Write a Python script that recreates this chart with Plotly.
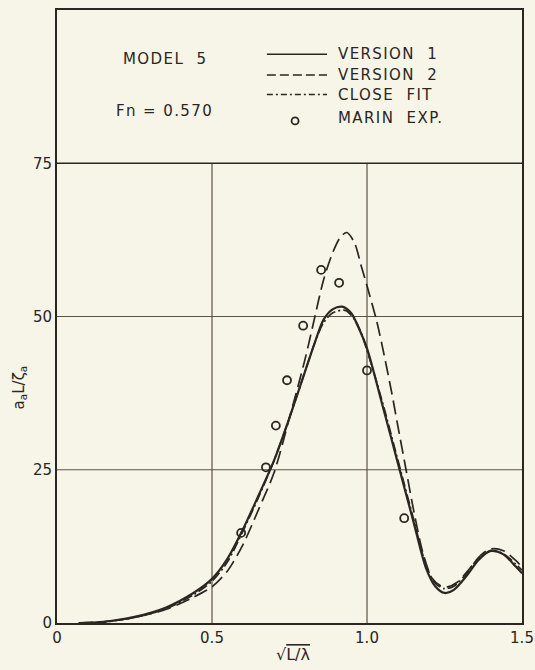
import plotly.graph_objects as go

# ---------------- data ----------------
v1_x = [0.07, 0.15, 0.25, 0.35, 0.44, 0.50, 0.55, 0.60, 0.65, 0.70, 0.75, 0.80, 0.83, 0.86, 0.89, 0.92,
        0.95, 0.97, 1.00, 1.05, 1.10, 1.15, 1.19, 1.22, 1.25, 1.28, 1.32, 1.36, 1.40, 1.44, 1.48, 1.50]
v1_y = [0.0, 0.2, 1.0, 2.5, 4.9, 7.2, 10.5, 15.3, 20.8, 26.5, 33.5, 41.0, 45.5, 49.5, 51.2, 51.6,
        50.5, 48.5, 44.8, 35.5, 26.0, 16.5, 9.0, 6.0, 4.9, 5.4, 7.6, 10.3, 11.8, 11.2, 9.2, 8.1]

v2_x = [0.07, 0.15, 0.25, 0.35, 0.44, 0.50, 0.55, 0.60, 0.65, 0.70, 0.75, 0.80, 0.832, 0.86, 0.89, 0.915,
        0.935, 0.96, 0.98, 1.00, 1.03, 1.05, 1.08, 1.10, 1.126, 1.15, 1.18, 1.21, 1.24, 1.26, 1.29, 1.33,
        1.37, 1.40, 1.44, 1.48, 1.50]
v2_y = [0.0, 0.2, 0.9, 2.2, 4.2, 5.9, 8.5, 12.8, 18.5, 24.5, 33.5, 43.0, 50.0, 56.0, 60.5, 63.0,
        63.7, 62.0, 58.5, 55.0, 49.5, 45.0, 37.5, 32.0, 25.0, 18.5, 11.5, 7.3, 6.0, 5.9, 6.6, 8.8,
        11.2, 12.1, 11.8, 10.2, 9.1]

cf_x = [0.07, 0.15, 0.25, 0.35, 0.44, 0.50, 0.55, 0.60, 0.65, 0.70, 0.75, 0.80, 0.83, 0.86, 0.89, 0.93,
        0.96, 0.98, 1.00, 1.05, 1.10, 1.15, 1.19, 1.22, 1.25, 1.28, 1.32, 1.36, 1.40, 1.44, 1.48, 1.50]
cf_y = [0.0, 0.15, 0.9, 2.3, 4.6, 6.8, 10.0, 15.0, 20.5, 26.5, 33.5, 41.0, 45.5, 49.0, 50.6, 51.0,
        49.5, 47.5, 44.5, 36.0, 26.5, 17.0, 9.5, 6.5, 5.6, 6.0, 8.0, 10.6, 11.7, 11.3, 9.6, 8.6]

exp_x = [0.594, 0.674, 0.706, 0.742, 0.794, 0.852, 0.910, 1.000, 1.120]
exp_y = [14.7, 25.4, 32.2, 39.6, 48.5, 57.6, 55.5, 41.2, 17.1]

x_ticks = [0, 0.5, 1.0, 1.5]
x_ticklabels = ["0", "0.5", "1.0", "1.5"]
y_ticks = [0, 25, 50, 75]
y_ticklabels = ["0", "25", "50", "75"]

legend_names = ["VERSION\u00a0\u00a01", "VERSION\u00a0\u00a02", "CLOSE\u00a0\u00a0FIT", "MARIN\u00a0\u00a0EXP."]

# ---------------- style ----------------
BG = "#f7f5e7"
INK = "#2b2622"
GRID = "#5e5046"
FONT = "DejaVu Sans"
SP = "letter-spacing:1.4px"

fig = go.Figure()

fig.add_trace(go.Scatter(x=v2_x, y=v2_y, mode="lines", line=dict(color=INK, width=1.7, dash="14px,6px", shape="spline", smoothing=0.8), name="v2"))
fig.add_trace(go.Scatter(x=cf_x, y=cf_y, mode="lines", line=dict(color=INK, width=1.7, dash="10px,3px,2px,3px", shape="spline", smoothing=0.8), name="cf"))
fig.add_trace(go.Scatter(x=v1_x, y=v1_y, mode="lines", line=dict(color=INK, width=2.2, shape="spline", smoothing=0.8), name="v1"))
fig.add_trace(go.Scatter(x=exp_x, y=exp_y, mode="markers",
                         marker=dict(symbol="circle-open", size=8, color=INK, line=dict(width=1.8, color=INK)), name="exp"))

shapes = []
# vertical grid lines only up to 75
for t in x_ticks[1:-1]:
    shapes.append(dict(type="line", xref="x", yref="y", x0=t, x1=t, y0=0, y1=75, line=dict(color=GRID, width=1.2), layer="below"))
for t in y_ticks[1:]:
    shapes.append(dict(type="line", xref="x", yref="y", x0=0, x1=1.5, y0=t, y1=t, line=dict(color=GRID if t < 75 else INK, width=1.2 if t < 75 else 1.5), layer="below"))

# legend panel samples
rows_y = [92.8, 89.4, 86.2, 82.4]
lx0, lx1, ltx = 0.677, 0.871, 0.90
dashes = ["solid", "9px,4px", "6px,3px,2px,3px"]
for i in range(3):
    shapes.append(dict(type="line", xref="x", yref="y", x0=lx0, x1=lx1, y0=rows_y[i], y1=rows_y[i],
                       line=dict(color=INK, width=1.5, dash=dashes[i])))
shapes.append(dict(type="circle", xref="x", yref="y", xsizemode="pixel", ysizemode="pixel",
                   xanchor=0.768, yanchor=rows_y[3] - 0.5, x0=-3.5, x1=3.5, y0=-3.5, y1=3.5,
                   line=dict(color=INK, width=1.8)))

annotations = []
for i, name in enumerate(legend_names):
    annotations.append(dict(x=ltx, y=rows_y[i], xref="x", yref="y", text=f"<span style='{SP}'>{name}</span>", showarrow=False,
                            xanchor="left", yanchor="middle", font=dict(family=FONT, size=15, color=INK)))
annotations.append(dict(x=0.348, y=92.0, xref="x", yref="y", text=f"<span style='{SP}'>MODEL\u00a0\u00a05</span>", showarrow=False,
                        xanchor="center", yanchor="middle", font=dict(family=FONT, size=15, color=INK)))
annotations.append(dict(x=0.348, y=83.6, xref="x", yref="y", text=f"<span style='{SP}'>Fn\u00a0=\u00a00.570</span>", showarrow=False,
                        xanchor="center", yanchor="middle", font=dict(family=FONT, size=15, color=INK)))
# axis titles
annotations.append(dict(x=0.76, y=-0.052, xref="x", yref="paper", text="\u221a<span style='text-decoration:overline'>L/\u03bb</span>",
                        showarrow=False, xanchor="center", yanchor="middle", font=dict(family=FONT, size=16, color=INK)))
annotations.append(dict(x=-0.08, y=38.4, xref="paper", yref="y", text="a<sub>a</sub>L/\u03b6<sub>a</sub>",
                        showarrow=False, textangle=-90, xanchor="center", yanchor="middle", font=dict(family=FONT, size=15, color=INK)))

fig.update_layout(
    width=535, height=670,
    margin=dict(l=57, r=13, t=10, b=47, autoexpand=False),
    paper_bgcolor=BG, plot_bgcolor=BG,
    showlegend=False,
    shapes=shapes, annotations=annotations,
    xaxis=dict(range=[0, 1.5], tickvals=x_ticks, ticktext=x_ticklabels, showgrid=False, zeroline=False,
               showline=True, mirror=True, linecolor=INK, linewidth=2, ticks="",
               tickfont=dict(family=FONT, size=15, color=INK)),
    yaxis=dict(range=[0, 100], tickvals=y_ticks, ticktext=y_ticklabels, showgrid=False, zeroline=False,
               showline=True, mirror=True, linecolor=INK, linewidth=2, ticks="",
               tickfont=dict(family=FONT, size=15, color=INK)),
)

fig.write_html("out.html", config={"displayModeBar": False},
               post_script="document.body.style.margin='0';document.body.style.background='%s';" % BG)
